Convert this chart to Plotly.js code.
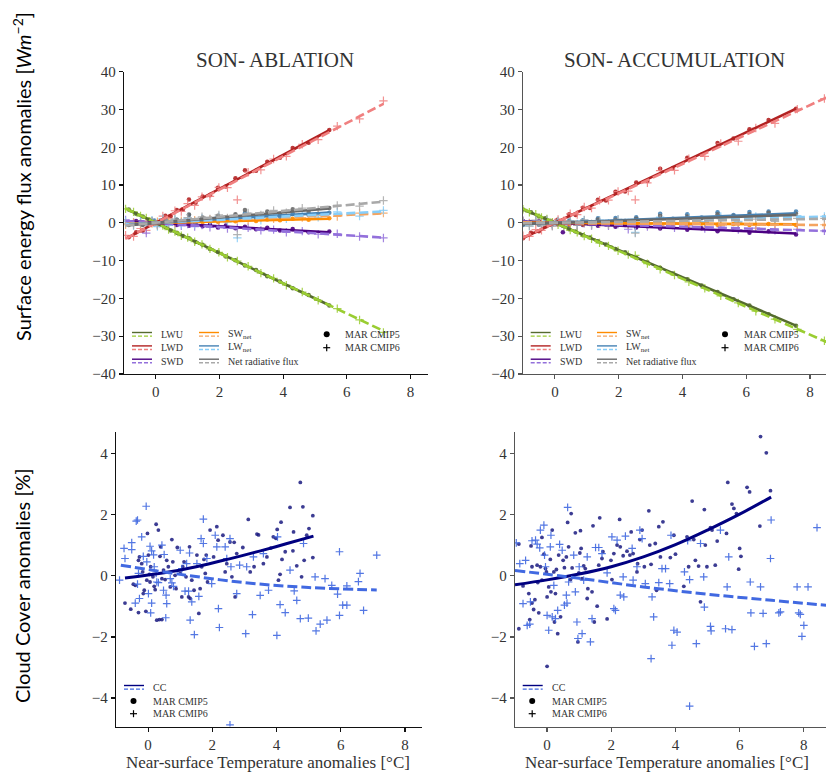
<!DOCTYPE html>
<html><head><meta charset="utf-8">
<script src="https://cdn.plot.ly/plotly-3.0.1.min.js"></script>
<style>html,body{margin:0;padding:0;background:#fff}</style>
</head><body><div id="chart" style="width:826px;height:775px"></div>
<script>
// ---------- Top-left: SON- ABLATION, MAR CMIP5 ----------
const tA5 = [-0.85,-0.62,-0.41,-0.22,-0.05,0.12,0.3,0.47,0.66,0.85,1.04,1.25,1.47,1.7,1.95,2.2,2.5,2.8,3.15,3.5,3.9,4.3,4.8,5.45];
const lwuA5 = [3.5,2.4,1.7,0.8,0.3,-0.6,-1.1,-2.0,-2.6,-3.5,-4.1,-5.1,-5.8,-6.9,-7.7,-8.9,-9.9,-11.3,-12.5,-14.1,-15.5,-17.3,-19.1,-21.9];
const lwdA5 = [-3.8,-2.5,-2.1,-0.6,0.3,0.2,1.9,1.8,3.4,3.5,6.2,5.3,7.0,7.3,9.3,9.6,11.8,13.9,13.8,16.2,17.2,19.8,21.2,24.6];
const swdA5 = [0.2,0.5,-0.2,0.3,-0.4,0.1,-0.5,0.0,-0.6,-0.2,-0.8,-0.3,-0.9,-0.5,-1.2,-0.7,-1.4,-1.0,-1.7,-1.3,-2.0,-1.6,-2.5,-2.3];
const swnetA5 = [-0.3,0.1,-0.2,0.2,-0.3,0.2,-0.1,0.3,0.0,0.4,0.1,0.5,0.2,0.6,0.3,0.7,0.4,0.8,0.5,0.9,0.7,1.1,0.8,1.2];
const lwnetA5 = [-0.3,-0.1,-0.4,0.2,0.6,-0.4,0.8,-0.2,0.8,0.0,2.1,0.2,1.2,0.4,1.6,0.7,1.9,2.6,1.3,2.1,1.7,2.5,2.1,2.7];
const netA5 = [-0.6,0.0,-0.6,0.4,0.3,-0.2,0.7,0.1,0.8,0.4,2.2,0.7,1.4,1.0,1.9,1.4,2.3,3.4,1.8,3.0,2.4,3.6,2.9,3.9];
// ---------- Top-left: SON- ABLATION, MAR CMIP6 ----------
const tA6 = [-0.95,-0.7,-0.48,-0.3,-0.12,0.05,0.22,0.4,0.6,0.8,1.0,1.22,1.45,1.7,1.98,2.25,2.56,2.9,3.3,3.7,4.1,4.6,5.1,5.7,6.4,7.15];
const lwuA6 = [3.7,2.9,1.8,1.3,0.3,-0.4,-0.7,-1.8,-2.3,-3.4,-3.9,-5.0,-5.7,-6.9,-7.8,-9.1,-10.1,-11.5,-13.3,-14.7,-16.5,-18.3,-20.5,-22.7,-25.7,-29.0];
const lwdA6 = [-3.3,-3.6,-1.5,-2.0,0.4,-0.6,1.8,1.1,3.2,3.0,5.1,4.6,6.9,7.0,9.4,9.3,6.1,13.4,14.0,16.9,17.6,20.8,22.0,25.6,27.5,32.3];
const swdA6 = [0.8,0.1,0.6,-2.7,0.4,-0.3,0.2,-0.6,-0.1,-0.8,-0.3,-1.0,-0.6,-1.2,-0.8,-1.5,-1.4,-1.3,-2.0,-1.8,-2.5,-2.2,-3.0,-2.9,-3.6,-4.0];
const swnetA6 = [-0.5,0.1,-0.4,0.2,-0.2,0.3,-0.1,0.4,0.1,0.6,0.2,0.7,0.4,0.9,0.5,1.1,0.9,0.7,1.4,1.1,1.6,1.4,2.0,1.7,2.6,2.6];
const lwnetA6 = [0.4,-0.7,0.3,-0.7,0.7,-1.0,1.1,-0.7,0.9,-0.4,1.2,-0.4,1.2,0.1,1.6,0.2,-4.0,1.9,0.7,2.2,1.1,2.5,1.5,2.9,1.8,3.3];
const netA6 = [-0.1,-0.6,-0.1,-0.5,0.5,-0.7,1.0,-0.3,1.0,0.2,1.4,0.3,1.6,1.0,2.1,1.3,-3.1,2.6,2.1,3.3,2.7,3.9,3.5,4.6,4.4,5.9];
// fits (regression lines), ablation
const fitTA5 = [-0.85, 5.45];
const fitLwuA5 = [3.4,-21.8], fitLwdA5 = [-3.8,24.5], fitSwdA5 = [0.4,-2.5], fitSwnetA5 = [-0.2,1.1], fitLwnetA5 = [-0.4,2.7], fitNetA5 = [-0.6,3.8];
const fitTA6 = [-0.95, 7.15];
const fitLwuA6 = [3.8,-28.6], fitLwdA6 = [-4.2,31.5], fitSwdA6 = [0.5,-3.9], fitSwnetA6 = [-0.3,2.5], fitLwnetA6 = [-0.4,3.0], fitNetA6 = [-0.7,5.6];

// ---------- Top-right: SON- ACCUMULATION, MAR CMIP5 ----------
const tB5 = [-1.0,-0.75,-0.5,-0.3,-0.1,0.08,0.25,0.45,0.65,0.88,1.1,1.35,1.6,1.9,2.2,2.55,2.9,3.3,3.7,4.15,4.6,5.1,5.6,6.1,6.7,7.56];
const lwuB5 = [3.5,2.8,1.7,1.2,0.2,-0.4,-0.8,-1.7,-2.3,-3.3,-3.9,-4.9,-5.7,-6.9,-7.8,-9.2,-10.4,-11.9,-13.4,-14.9,-16.6,-18.3,-20.2,-21.9,-24.2,-27.2];
const lwdB5 = [-4.1,-2.6,-2.2,-0.9,-0.6,0.8,0.6,2.3,2.1,4.0,3.9,6.1,5.9,8.2,8.3,10.7,11.1,14.3,14.5,17.2,18.0,21.1,22.3,24.8,27.2,30.2];
const swdB5 = [0.5,0.1,0.4,-0.2,0.3,-0.3,-2.5,-0.5,-0.1,-0.6,-0.3,-0.8,-0.4,-1.0,-0.6,-1.2,-0.9,-1.5,-1.1,-1.8,-1.4,-2.2,-1.8,-2.6,-2.2,-3.1];
const swnetB5 = [0.2,-0.2,0.1,-0.3,0.2,-0.2,0.1,-0.3,0.0,-0.4,0.1,-0.3,-0.1,-0.5,0.0,-0.4,-0.1,-0.5,-0.2,-0.6,-0.2,-0.5,-0.3,-0.6,-0.3,-0.6];
const lwnetB5 = [-0.6,0.2,-0.5,0.3,-0.4,0.4,-0.2,0.6,-0.2,0.7,0.0,1.2,0.2,1.3,0.5,1.5,0.7,2.4,1.1,2.3,1.4,2.8,2.1,2.9,3.0,3.0];
const netB5 = [-0.4,0.0,-0.4,0.0,-0.2,0.2,-0.1,0.3,-0.2,0.3,0.1,0.9,0.1,0.8,0.5,1.1,0.6,1.9,0.9,1.7,1.2,2.3,1.8,2.3,2.7,2.4];
// ---------- Top-right: SON- ACCUMULATION, MAR CMIP6 ----------
const tB6 = [-1.0,-0.8,-0.6,-0.42,-0.25,-0.08,0.1,0.28,0.48,0.7,0.92,1.15,1.4,1.68,1.98,2.3,2.52,2.9,3.3,3.75,4.2,4.7,5.2,5.75,6.3,6.9,7.6,8.45];
const lwuB6 = [3.6,2.8,2.3,1.4,1.0,0.2,-0.5,-0.9,-1.9,-2.5,-3.5,-4.2,-5.3,-6.1,-7.4,-8.4,-8.6,-10.8,-12.3,-13.8,-15.6,-17.3,-19.3,-21.2,-23.4,-25.5,-28.2,-31.2];
const lwdB6 = [-3.4,-3.6,-1.8,-2.0,-0.4,-0.8,0.9,0.6,2.4,2.2,4.2,3.9,6.0,6.0,8.3,8.4,6.1,10.6,13.8,13.9,17.0,17.6,21.0,21.6,25.1,26.3,30.1,32.9];
const swdB6 = [0.6,0.0,0.4,-0.3,0.3,-0.4,0.2,-0.5,0.0,-0.6,-0.1,-0.7,-0.2,-0.8,-0.3,-1.7,-0.9,-1.0,-0.6,-1.3,-0.8,-1.5,-1.1,-1.8,-1.4,-2.0,-1.7,-2.1];
const swnetB6 = [0.3,-0.1,0.2,-0.2,0.3,-0.3,0.1,-0.3,0.0,-0.4,0.1,-0.3,-0.1,-0.4,0.0,-0.5,-0.2,-0.3,-0.6,-0.1,-0.5,-0.2,-0.6,-0.3,-0.7,-0.4,-0.7,-0.5];
const lwnetB6 = [0.2,-0.8,0.5,-0.6,0.6,-0.6,0.4,-0.3,0.5,-0.3,0.7,-0.3,0.7,-0.1,0.9,0.0,-2.5,-0.2,1.5,0.1,1.4,0.3,1.7,0.4,1.7,0.8,1.9,1.7];
const netB6 = [0.5,-0.9,0.7,-0.8,0.9,-0.9,0.5,-0.6,0.5,-0.7,0.8,-0.6,0.6,-0.5,0.9,-0.5,-2.7,-0.5,0.9,0.0,0.9,0.1,1.1,0.1,1.0,0.4,1.2,1.2];
// fits, accumulation
const fitTB5 = [-1.0, 7.56];
const fitLwuB5 = [3.6,-27.2], fitLwdB5 = [-4.0,30.2], fitSwdB5 = [0.37,-2.8], fitSwnetB5 = [0.05,-0.4], fitLwnetB5 = [-0.3,2.5], fitNetB5 = [-0.3,2.1];
const fitTB6 = [-1.0, 8.7];
const fitLwuB6 = [3.7,-32.2], fitLwdB6 = [-3.9,33.9], fitSwdB6 = [0.25,-2.2], fitSwnetB6 = [0.07,-0.6], fitLwnetB6 = [-0.2,1.7], fitNetB6 = [-0.1,1.1];

// ---------- Bottom-left: cloud cover, ablation ----------
const ccTA5 = [-0.72,-0.54,-0.30,-0.46,-0.40,-0.30,-0.27,-0.20,-0.17,-0.15,-0.12,-0.07,-0.04,-0.02,0.01,0.04,0.06,0.08,0.15,0.19,0.22,0.25,0.27,0.32,0.35,0.37,0.39,0.43,0.43,0.48,0.53,0.58,0.63,0.69,0.74,0.77,0.84,0.87,0.91,1.00,1.05,1.08,1.12,1.18,1.26,1.29,1.31,1.36,1.43,1.52,1.58,1.62,1.67,1.74,1.78,1.81,1.85,1.93,2.04,2.14,2.18,2.33,2.40,2.45,2.55,2.61,2.68,2.71,2.76,2.95,3.12,3.18,3.30,3.39,3.44,3.59,3.70,3.82,3.90,3.98,4.02,4.06,4.11,4.14,4.17,4.27,4.42,4.51,4.53,4.63,4.74,4.78,4.82,4.86,4.94,5.01,5.13,5.13];
const ccA5 = [-0.89,-1.09,-1.20,-0.27,-0.31,0.51,0.62,0.40,0.13,-0.58,-0.47,-1.16,-0.14,1.39,0.68,0.05,-0.20,0.30,-0.03,-0.34,-0.45,1.69,-1.45,1.50,-1.43,0.64,0.95,-1.43,-0.09,0.19,-0.12,0.51,0.30,-0.36,1.19,0.46,0.02,-0.42,0.93,0.08,-0.69,0.30,0.46,-0.03,-0.69,0.95,-0.74,-0.14,-0.47,0.68,-1.23,-0.42,0.30,0.54,0.08,0.68,-0.20,1.50,0.62,1.61,1.17,1.33,0.13,0.40,1.11,-0.03,1.10,-0.69,0.73,0.93,1.85,0.13,0.30,1.37,1.34,0.40,0.62,0.91,1.28,1.23,1.52,-0.14,0.05,1.76,0.54,0.79,2.24,0.82,1.44,0.33,3.06,-0.03,2.26,0.51,1.33,1.55,1.97,0.60];
const ccTA6 = [-0.89,-0.75,-0.72,-0.51,-0.51,-0.40,-0.37,-0.33,-0.30,-0.33,-0.27,-0.20,-0.06,-0.15,-0.04,0.01,0.06,0.08,0.11,0.11,0.17,0.19,0.25,0.27,0.32,0.43,0.48,0.50,0.55,0.56,0.58,0.69,0.74,0.79,1.00,1.05,1.15,1.20,1.26,1.29,1.31,1.36,1.44,1.52,1.58,1.65,1.72,1.72,1.83,1.98,2.09,2.14,2.19,2.22,2.40,2.45,2.55,2.58,2.76,2.85,3.04,3.07,3.25,3.28,3.49,3.59,3.75,4.01,4.03,4.11,4.27,4.42,4.55,4.63,4.74,4.84,4.99,5.20,5.23,5.36,5.51,5.57,5.72,5.90,5.96,5.96,6.06,6.19,6.19,6.55,6.60,6.71,7.12,2.55];
const ccA6 = [-0.14,0.90,0.57,0.86,1.09,-0.89,1.79,1.83,0.08,-0.27,-0.74,1.28,2.28,0.64,0.46,-0.58,0.97,-1.21,0.82,-0.89,0.69,0.30,0.08,-0.20,-0.22,1.01,-0.47,0.70,-1.37,-0.63,-0.91,-0.09,-0.23,-0.34,0.84,0.24,-0.50,0.40,-0.50,0.75,-1.45,-0.85,-1.92,0.40,-0.67,1.22,1.86,1.06,0.57,-0.25,1.33,0.95,-1.07,-1.69,0.95,0.57,1.22,0.30,-0.58,0.35,-1.89,0.30,-1.27,0.62,-0.64,0.73,-0.47,-1.95,1.28,-0.94,-1.20,0.19,-0.49,-0.80,-1.40,1.06,-1.38,-0.03,-1.80,-1.58,-0.09,-1.45,-0.31,-0.60,0.79,-1.29,-0.96,-0.96,-0.33,-0.19,0.08,-1.13,0.68,-4.88];
const ccFitTA5 = [-0.72,0.5,1.5,2.5,3.5,4.3,5.15];
const ccFitA5 = [-0.07,0.1,0.3,0.55,0.82,1.05,1.3];
const ccFitTA6 = [-0.85,1,3,5,7.12];
const ccFitA6 = [0.35,0.05,-0.22,-0.38,-0.46];

// ---------- Bottom-right: cloud cover, accumulation ----------
const ccTB5 = [-0.88,-0.88,-0.75,-0.57,-0.54,-0.50,-0.47,-0.47,-0.42,-0.38,-0.31,-0.29,-0.26,-0.21,-0.16,-0.16,-0.10,-0.05,-0.02,0.00,0.05,0.10,0.12,0.16,0.21,0.23,0.26,0.29,0.33,0.36,0.42,0.50,0.54,0.60,0.64,0.67,0.73,0.75,0.78,0.83,0.88,0.96,0.99,1.02,1.04,1.06,1.09,1.14,1.19,1.25,1.27,1.40,1.43,1.47,1.56,1.61,1.64,1.71,1.74,1.87,1.99,2.02,2.08,2.18,2.26,2.28,2.37,2.49,2.58,2.62,2.68,2.80,2.82,2.89,2.96,3.03,3.17,3.20,3.24,3.37,3.41,3.48,3.53,3.61,3.84,3.95,4.00,4.26,4.36,4.41,4.52,4.57,4.62,4.72,4.78,4.90,4.93,4.98,5.09,5.14,5.24,5.30,5.59,5.63,5.76,5.82,5.90,5.97,6.00,6.04,6.23,6.31,6.63,6.65,6.83,6.96,0.00];
const ccB5 = [1.04,-1.73,-0.33,-0.58,-1.43,0.98,-0.89,0.30,-1.10,-0.78,0.35,-0.22,-1.21,0.30,-0.14,1.26,0.71,0.24,0.13,-0.69,-0.36,0.54,-0.52,1.50,0.13,-1.51,-0.58,0.21,-1.89,0.68,-1.34,0.51,0.27,0.62,1.75,0.95,-0.12,2.04,0.26,-0.03,1.41,-2.16,0.10,0.75,1.48,0.90,-0.09,0.33,0.24,-0.74,-0.42,-0.52,1.64,-1.51,-0.99,0.35,1.90,0.57,0.79,-1.41,0.51,-0.12,0.73,1.01,1.85,0.95,0.66,0.81,0.68,1.44,0.73,0.13,0.40,1.19,1.50,0.30,2.13,1.01,0.38,1.06,-0.47,1.61,0.62,1.77,0.60,1.33,0.71,-0.34,1.28,0.30,2.45,1.19,0.51,0.32,-0.85,2.17,1.01,0.30,1.58,1.50,0.35,1.14,1.39,3.06,2.35,2.21,2.04,0.22,0.90,0.64,2.90,2.75,1.63,4.56,4.03,2.79,-2.96];
const ccTB6 = [-0.96,-0.85,-0.75,-0.67,-0.62,-0.54,-0.52,-0.47,-0.36,-0.31,-0.23,-0.21,-0.10,-0.08,-0.05,0.00,0.05,0.10,0.12,0.16,0.21,0.26,0.33,0.39,0.47,0.54,0.60,0.62,0.64,0.67,0.83,0.88,0.93,0.96,1.00,1.09,1.14,1.25,1.35,1.40,1.51,1.61,1.71,1.87,2.02,2.08,2.13,2.18,2.28,2.37,2.39,2.44,2.65,2.68,2.80,2.89,2.96,3.06,3.27,3.32,3.48,3.58,3.69,3.82,3.86,3.89,3.95,4.05,4.28,4.38,4.44,4.65,4.78,4.88,4.90,5.09,5.11,5.40,5.56,5.61,5.66,5.76,6.33,6.35,6.46,6.65,6.73,6.83,6.96,6.98,7.22,7.27,7.79,7.84,7.89,7.94,8.00,8.13,8.41,3.24,4.44];
const ccB6 = [1.08,0.40,-0.91,0.51,-1.62,-1.58,-0.85,1.15,1.17,1.04,0.92,1.50,1.66,0.68,0.30,-1.29,-1.78,0.95,1.33,-1.34,-0.31,-1.40,-1.13,1.03,0.84,-0.96,-0.63,-0.89,2.24,-0.20,0.68,-0.52,-1.51,-2.05,0.30,-1.89,-0.14,0.62,-2.16,-1.40,0.93,0.93,0.73,0.10,1.28,-1.07,-1.13,1.17,-0.63,-0.03,-0.69,1.30,0.90,-0.14,0.30,1.50,1.22,-0.25,-0.69,-1.34,-0.22,0.24,0.24,-0.25,1.33,-2.27,-1.78,-1.84,0.13,1.15,-0.12,-2.22,1.06,-0.03,-1.02,-1.65,-1.80,1.50,-1.73,-0.36,0.62,-1.76,-0.20,-1.21,-2.31,-0.36,-1.23,-2.22,0.57,1.83,-1.21,-1.18,-0.36,-1.21,-1.26,-1.98,-1.62,-0.36,1.58,-2.71,-4.26];
const ccFitTB5 = [-1,0,1,2,3,4,5,6,6.98];
const ccFitB5 = [-0.29,-0.13,0.06,0.3,0.62,1.02,1.5,2.02,2.58];
const ccFitTB6 = [-1,1,3,5,7,8.8];
const ccFitB6 = [0.18,-0.08,-0.36,-0.6,-0.8,-0.97];

// labels
const panelTitles = ['SON- ABLATION', 'SON- ACCUMULATION'];
const fluxLabels = ['LWU', 'LWD', 'SWD', 'SW<sub>net</sub>', 'LW<sub>net</sub>', 'Net radiative flux'];
const modelLabels = ['MAR CMIP5', 'MAR CMIP6'];
const xTitle = 'Near-surface Temperature anomalies [°C]';

// ---------- styling ----------
const dark = ['#556B2F', '#B22222', '#4B0082', '#FF8C00', '#4682B4', '#696969'];
const light = ['#9ACD32', '#F08080', '#9370DB', '#F4A460', '#87CEFA', '#A9A9A9'];
const ccDark = '#000080', ccLight = '#4169E1';
const SERIF = '"Liberation Serif", "DejaVu Serif", serif';
const W = 826, H = 775;
const px = v => v / W, py = v => 1 - v / H;
const DASH = '9px,4px';

const traces = [];
function dots(x, y, xa, ya, color, size, op) {
  traces.push({x, y, xaxis: xa, yaxis: ya, type: 'scatter', mode: 'markers', hoverinfo: 'skip',
    marker: {symbol: 'circle', size: size, color: color, opacity: op, line: {width: 0}}});
}
function crosses(x, y, xa, ya, color, size, op) {
  traces.push({x, y, xaxis: xa, yaxis: ya, type: 'scatter', mode: 'markers', hoverinfo: 'skip',
    marker: {symbol: 'cross-thin', size: size, color: color, opacity: op, line: {width: 1.2, color: color}}});
}
function line(x, y, xa, ya, color, dash, w, spline) {
  traces.push({x, y, xaxis: xa, yaxis: ya, type: 'scatter', mode: 'lines', hoverinfo: 'skip',
    line: {color: color, width: w, dash: dash, shape: spline ? 'spline' : 'linear'}});
}

const A5 = [lwuA5, lwdA5, swdA5, swnetA5, lwnetA5, netA5];
const A6 = [lwuA6, lwdA6, swdA6, swnetA6, lwnetA6, netA6];
const B5 = [lwuB5, lwdB5, swdB5, swnetB5, lwnetB5, netB5];
const B6 = [lwuB6, lwdB6, swdB6, swnetB6, lwnetB6, netB6];
const fA5 = [fitLwuA5, fitLwdA5, fitSwdA5, fitSwnetA5, fitLwnetA5, fitNetA5];
const fA6 = [fitLwuA6, fitLwdA6, fitSwdA6, fitSwnetA6, fitLwnetA6, fitNetA6];
const fB5 = [fitLwuB5, fitLwdB5, fitSwdB5, fitSwnetB5, fitLwnetB5, fitNetB5];
const fB6 = [fitLwuB6, fitLwdB6, fitSwdB6, fitSwnetB6, fitLwnetB6, fitNetB6];

// scatter first (matplotlib collections are under lines)
for (let i = 0; i < 6; i++) {
  dots(tA5, A5[i], 'x', 'y', dark[i], 4.5, 0.9);
  crosses(tA6, A6[i], 'x', 'y', light[i], 6, 0.85);
  dots(tB5, B5[i], 'x2', 'y2', dark[i], 4.5, 0.9);
  crosses(tB6, B6[i], 'x2', 'y2', light[i], 6, 0.85);
}
for (let i = 0; i < 6; i++) {
  line(fitTA5, fA5[i], 'x', 'y', dark[i], 'solid', 2.6);
  line(fitTA6, fA6[i], 'x', 'y', light[i], DASH, 2.6);
  line(fitTB5, fB5[i], 'x2', 'y2', dark[i], 'solid', 2.6);
  line(fitTB6, fB6[i], 'x2', 'y2', light[i], DASH, 2.6);
}
dots(ccTA5, ccA5, 'x3', 'y3', '#1a1a80', 3.8, 0.85);
crosses(ccTA6, ccA6, 'x3', 'y3', ccLight, 5.5, 0.9);
dots(ccTB5, ccB5, 'x4', 'y4', '#1a1a80', 3.8, 0.85);
crosses(ccTB6, ccB6, 'x4', 'y4', ccLight, 5.5, 0.9);
line(ccFitTA5, ccFitA5, 'x3', 'y3', ccDark, 'solid', 3, true);
line(ccFitTA6, ccFitA6, 'x3', 'y3', ccLight, '10px,4px', 3, true);
line(ccFitTB5, ccFitB5, 'x4', 'y4', ccDark, 'solid', 3, true);
line(ccFitTB6, ccFitB6, 'x4', 'y4', ccLight, '10px,4px', 3, true);

function axis(d0, d1, range, dtick, anchor, col, vertical) {
  return {domain: vertical ? [py(d1), py(d0)] : [px(d0), Math.min(1, px(d1))],
    range: range, dtick: dtick, tick0: 0, anchor: anchor, showgrid: false, zeroline: false,
    showline: true, linecolor: col, linewidth: 1.3, ticks: 'outside', ticklen: 4, tickwidth: 1.2, tickcolor: col,
    tickfont: {family: SERIF, size: 15, color: '#333'}, fixedrange: true};
}

const shapes = [], annotations = [];
function txt(x, y, t, size, opts) {
  annotations.push(Object.assign({x: px(x), y: py(y), xref: 'paper', yref: 'paper', text: t, showarrow: false,
    xanchor: 'left', yanchor: 'middle', font: {family: SERIF, size: size, color: '#333'}}, opts || {}));
}
function seg(x0, x1, y, color, dash, w) {
  shapes.push({type: 'line', xref: 'paper', yref: 'paper', x0: px(x0), x1: px(x1), y0: py(y), y1: py(y),
    line: {color: color, width: w, dash: dash}});
}
function handle(x, y, c5, c6) {
  seg(x, x + 20, y - 1.8, c5, 'solid', 1.4);
  seg(x, x + 20, y + 1.8, c6, '4px,2px', 1.4);
}
function dotMark(x, y) {
  shapes.push({type: 'circle', xref: 'paper', yref: 'paper', x0: px(x - 3), x1: px(x + 3), y0: py(y + 3), y1: py(y - 3),
    fillcolor: '#000', line: {width: 0}});
}
function plusMark(x, y) {
  seg(x - 3.5, x + 3.5, y, '#000', 'solid', 1.2);
  shapes.push({type: 'line', xref: 'paper', yref: 'paper', x0: px(x), x1: px(x), y0: py(y - 3.5), y1: py(y + 3.5),
    line: {color: '#000', width: 1.2}});
}

// flux legends
function fluxLegend(c1, c2, c3) {
  const rows = [334.3, 347.7, 361];
  for (let i = 0; i < 3; i++) {
    handle(c1, rows[i], dark[i], light[i]);
    txt(c1 + 27, rows[i], fluxLabels[i], 10);
    handle(c2, rows[i], dark[i + 3], light[i + 3]);
    txt(c2 + 27, rows[i], fluxLabels[i + 3], 10);
  }
  dotMark(c3, rows[0]); plusMark(c3, rows[1]);
  txt(c3 + 16.5, rows[0], modelLabels[0], 10);
  txt(c3 + 16.5, rows[1], modelLabels[1], 10);
}
fluxLegend(132, 199, 326.7);
fluxLegend(530.7, 597, 725);
function ccLegend(x) {
  handle(x, 687.3, ccDark, ccLight);
  txt(x + 27, 687.5, 'CC', 10);
  dotMark(x + 9.5, 701); plusMark(x + 9.5, 713.7);
  txt(x + 27, 701, modelLabels[0], 10);
  txt(x + 27, 713.7, modelLabels[1], 10);
}
ccLegend(124);
ccLegend(522.7);

// titles
txt(275, 60, panelTitles[0], 21, {xanchor: 'center'});
txt(674.5, 60, panelTitles[1], 21, {xanchor: 'center'});
txt(268, 762, xTitle, 17, {xanchor: 'center'});
txt(667, 762, xTitle, 17, {xanchor: 'center'});
annotations.push({x: px(22), y: py(177), xref: 'paper', yref: 'paper', showarrow: false, textangle: -90,
  xanchor: 'center', yanchor: 'middle',
  text: 'Surface energy flux anomalies [<i>Wm</i><sup>−2</sup>]', font: {family: 'Lato, "Open Sans", sans-serif', size: 20, color: '#000'}});
annotations.push({x: px(22), y: py(586), xref: 'paper', yref: 'paper', showarrow: false, textangle: -90,
  xanchor: 'center', yanchor: 'middle',
  text: 'Cloud Cover anomalies [%]', font: {family: 'Lato, "Open Sans", sans-serif', size: 20, color: '#000'}});

const layout = {
  width: W, height: H, margin: {l: 0, r: 0, t: 0, b: 0}, showlegend: false,
  paper_bgcolor: '#fff', plot_bgcolor: '#fff',
  xaxis: axis(124, 428, [-1, 8.55], 2, 'y', '#111'),
  yaxis: axis(71.7, 374, [-40, 40], 10, 'x', '#111', true),
  xaxis2: axis(523, 826, [-1, 8.5], 2, 'y2', '#555'),
  yaxis2: axis(71.7, 374, [-40, 40], 10, 'x2', '#555', true),
  xaxis3: axis(116, 422, [-1, 8.53], 2, 'y3', '#111'),
  yaxis3: axis(431.7, 726.5, [-4.93, 4.72], 2, 'x3', '#111', true),
  xaxis4: axis(515, 826, [-1, 8.69], 2, 'y4', '#555'),
  yaxis4: axis(431.7, 726.5, [-4.93, 4.72], 2, 'x4', '#555', true),
  shapes: shapes, annotations: annotations
};
Plotly.newPlot('chart', traces, layout, {staticPlot: true, displayModeBar: false});
</script></body></html>
